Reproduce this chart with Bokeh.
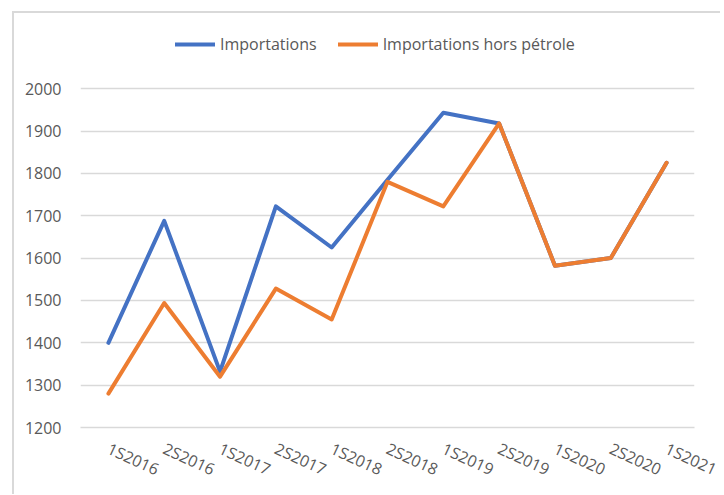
from bokeh.plotting import figure
from bokeh.models import Legend, LegendItem, FixedTicker, Range1d
from bokeh.embed import file_html
from bokeh.resources import INLINE

periods = ["1S2016", "2S2016", "1S2017", "2S2017", "1S2018", "2S2018",
           "1S2019", "2S2019", "1S2020", "2S2020", "1S2021"]
importations = [1400, 1688, 1332, 1722, 1625, 1785, 1943, 1918, 1582, 1600, 1825]
hors_petrole = [1280, 1494, 1320, 1528, 1455, 1780, 1722, 1918, 1582, 1600, 1825]
y_ticks = [1200, 1300, 1400, 1500, 1600, 1700, 1800, 1900, 2000]

BLUE = "#4472C4"
ORANGE = "#ED7D31"
GREY_TXT = "#595959"
GRID = "#d9d9d9"
FONT = "Open Sans"

# frame extends above the 2000 line to host the legend (ticks stop at 2000)
p = figure(x_range=periods, y_range=Range1d(1200, 2161), width=720, height=494,
           output_backend="svg", toolbar_location=None,
           min_border_left=80, min_border_top=20, min_border_right=26, min_border_bottom=67)
p.styles = {
    "background": ("linear-gradient(#d9d9d9,#d9d9d9) 12px 11px / 2px 100% no-repeat, "
                   "linear-gradient(#d9d9d9,#d9d9d9) 12px 11px / 100% 2px no-repeat, white"),
}
p.outline_line_color = None
p.background_fill_color = "white"
p.border_fill_color = None

r1 = p.line(periods, importations, line_color=BLUE, line_width=4,
            line_cap="round", line_join="round")
r2 = p.line(periods, hors_petrole, line_color=ORANGE, line_width=4,
            line_cap="round", line_join="round")

legend = Legend(items=[LegendItem(label="Importations", renderers=[r1]),
                       LegendItem(label="Importations hors pétrole", renderers=[r2])],
                orientation="horizontal", location=(95, 371))
legend.padding = 0
legend.margin = 0
legend.spacing = 21
legend.glyph_width = 40
legend.glyph_height = 24
legend.label_standoff = 5
legend.border_line_color = None
legend.background_fill_alpha = 0
legend.label_text_font = FONT
legend.label_text_font_size = "16px"
legend.label_text_color = GREY_TXT
p.add_layout(legend, "center")

p.xgrid.grid_line_color = None
p.ygrid.grid_line_color = GRID
p.ygrid.grid_line_width = 1.5
p.yaxis.ticker = FixedTicker(ticks=y_ticks)

p.yaxis.axis_line_color = None
p.yaxis.major_tick_line_color = None
p.yaxis.minor_tick_line_color = None
p.yaxis.major_tick_out = 0
p.yaxis.major_label_standoff = 19
p.yaxis.major_label_text_font = FONT
p.yaxis.major_label_text_font_size = "16px"
p.yaxis.major_label_text_color = GREY_TXT

p.xaxis.axis_line_color = GRID
p.xaxis.axis_line_width = 1.5
p.xaxis.major_tick_line_color = None
p.xaxis.minor_tick_line_color = None
p.xaxis.major_tick_out = 0
p.xaxis.major_label_standoff = 20
p.xaxis.major_label_orientation = -0.43
p.xaxis.major_label_text_font = FONT
p.xaxis.major_label_text_font_size = "16px"
p.xaxis.major_label_text_color = GREY_TXT
p.x_range.range_padding = 0

open("out.html", "w").write(file_html(p, INLINE))
